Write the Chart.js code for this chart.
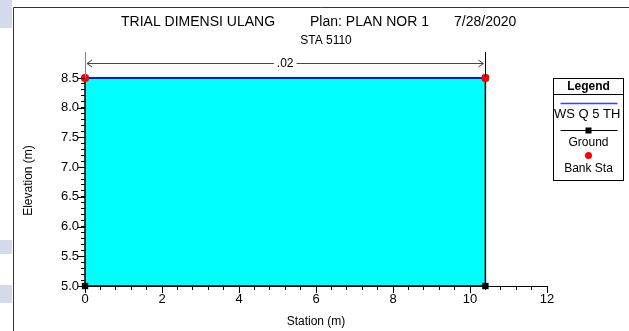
<!DOCTYPE html>
<html>
<head>
<meta charset="utf-8">
<script src="https://cdn.jsdelivr.net/npm/chart.js@4.4.0/dist/chart.umd.min.js"></script>
<style>
html, body { margin: 0; padding: 0; background: #fff; }
#wrap { position: relative; width: 629px; height: 331px; }
</style>
</head>
<body>
<div id="wrap"><canvas id="xs" width="629" height="331"></canvas></div>
<script>
// chart values
const titleParts = ['TRIAL DIMENSI ULANG', 'Plan: PLAN NOR 1', '7/28/2020'];
const subTitle = 'STA 5110';
const wsStation = [0, 10.4];
const wsElev = [8.5, 8.5];
const groundStation = [0, 0, 10.4, 10.4];
const groundElev = [8.5, 5.0, 5.0, 8.5];
const bankStation = [0, 10.4];
const bankElev = [8.5, 8.5];
const mannLabel = '.02';
const legendNames = ['WS Q 5 TH', 'Ground', 'Bank Sta'];
const xRange = [0, 12];
const yRange = [5.0, 8.55];
const xStep = 0.4, xLabelEvery = 2;
const yStep = 0.1, yLabelEvery = 0.5;

const FONT = 'Arial, "Liberation Sans", sans-serif';

function pts(xs, ys) {
    return xs.map((x, i) => ({ x: x, y: ys[i] }));
}
function isMultiple(v, m) {
    const r = v / m;
    return Math.abs(r - Math.round(r)) < 1e-6;
}

// frame, titles, dimension line, major ticks and legend box
const decorPlugin = {
    id: 'decor',
    beforeDraw(chart) {
        const ctx = chart.ctx;
        ctx.save();
        ctx.fillStyle = '#fff';
        ctx.fillRect(0, 0, chart.width, chart.height);
        // faint watermark bits in the margin
        ctx.fillStyle = '#d6d9eb';
        ctx.fillRect(0, 0, 12, 28);
        ctx.fillRect(0, 240, 12, 14);
        ctx.fillRect(0, 285, 12, 18);
        ctx.strokeStyle = '#333';
        ctx.lineWidth = 1;
        ctx.beginPath();
        ctx.moveTo(13.5, chart.height);
        ctx.lineTo(13.5, 7.5);
        ctx.lineTo(chart.width, 7.5);
        ctx.stroke();
        ctx.restore();
    },
    afterDraw(chart) {
        const ctx = chart.ctx;
        const area = chart.chartArea;
        const xs = chart.scales.x, ys = chart.scales.y;
        ctx.save();

        // titles
        ctx.fillStyle = '#000';
        ctx.textBaseline = 'middle';
        ctx.textAlign = 'left';
        ctx.font = '14px ' + FONT;
        const tx = [121, 310, 454];
        titleParts.forEach((t, i) => ctx.fillText(t, tx[i], 22));
        ctx.textAlign = 'center';
        ctx.font = '12px ' + FONT;
        ctx.fillText(subTitle, 326, 41);

        // major ticks
        ctx.strokeStyle = '#000';
        ctx.lineWidth = 1;
        ctx.beginPath();
        ys.ticks.forEach(t => {
            if (isMultiple(t.value, yLabelEvery)) {
                const py = Math.round(ys.getPixelForValue(t.value)) + 0.5;
                ctx.moveTo(area.left - 7, py);
                ctx.lineTo(area.left, py);
            }
        });
        xs.ticks.forEach(t => {
            if (isMultiple(t.value, xLabelEvery)) {
                const px = Math.round(xs.getPixelForValue(t.value)) + 0.5;
                ctx.moveTo(px, area.bottom);
                ctx.lineTo(px, area.bottom + 7);
            }
        });
        ctx.stroke();

        // dimension line for the n value between bank stations
        const xl = xs.getPixelForValue(bankStation[0]);
        const xr = xs.getPixelForValue(bankStation[1]);
        const yb = ys.getPixelForValue(bankElev[0]);
        const topExt = area.top - 23;
        const dimY = area.top - 11.5;
        ctx.lineWidth = 1;
        ctx.strokeStyle = '#808080';
        ctx.beginPath();
        ctx.moveTo(Math.round(xl) + 0.5, topExt);
        ctx.lineTo(Math.round(xl) + 0.5, yb);
        ctx.stroke();
        ctx.strokeStyle = '#000';
        ctx.beginPath();
        ctx.moveTo(Math.round(xr) + 0.5, topExt);
        ctx.lineTo(Math.round(xr) + 0.5, yb);
        ctx.stroke();

        ctx.strokeStyle = '#444';
        ctx.beginPath();
        ctx.moveTo(xl + 2, dimY);
        ctx.lineTo(xr - 2, dimY);
        ctx.moveTo(xl + 7, dimY - 3.5);
        ctx.lineTo(xl + 2, dimY);
        ctx.lineTo(xl + 7, dimY + 3.5);
        ctx.moveTo(xr - 7, dimY - 3.5);
        ctx.lineTo(xr - 2, dimY);
        ctx.lineTo(xr - 7, dimY + 3.5);
        ctx.stroke();
        ctx.font = '12px ' + FONT;
        const mid = (xl + xr) / 2;
        const lw = ctx.measureText(mannLabel).width;
        ctx.fillStyle = '#fff';
        ctx.fillRect(mid - lw / 2 - 3, dimY - 6, lw + 6, 12);
        ctx.fillStyle = '#000';
        ctx.textAlign = 'center';
        ctx.fillText(mannLabel, mid, dimY);

        // legend box
        const bx = area.right + 6.5, by = area.top + 3.5, bw = 70, bh = 102;
        ctx.fillStyle = '#fff';
        ctx.fillRect(bx, by, bw, bh);
        ctx.strokeStyle = '#000';
        ctx.strokeRect(bx, by, bw, bh);
        ctx.beginPath();
        ctx.moveTo(bx, by + 16);
        ctx.lineTo(bx + bw, by + 16);
        ctx.stroke();
        ctx.fillStyle = '#000';
        ctx.font = 'bold 12px ' + FONT;
        ctx.fillText('Legend', bx + bw / 2, by + 8.5);

        ctx.save();
        ctx.beginPath();
        ctx.rect(bx, by, bw, bh);
        ctx.clip();
        ctx.strokeStyle = '#3344ee';
        ctx.lineWidth = 1.5;
        ctx.beginPath();
        ctx.moveTo(bx + 7, by + 25);
        ctx.lineTo(bx + bw - 6, by + 25);
        ctx.stroke();
        ctx.font = '13px ' + FONT;
        ctx.textAlign = 'left';
        ctx.fillText(legendNames[0], bx + 0.5, by + 35.5);

        ctx.strokeStyle = '#000';
        ctx.lineWidth = 1.2;
        ctx.beginPath();
        ctx.moveTo(bx + 7, by + 52);
        ctx.lineTo(bx + bw - 6, by + 52);
        ctx.stroke();
        ctx.fillRect(bx + bw / 2 - 3, by + 49, 6, 6);
        ctx.font = '12px ' + FONT;
        ctx.textAlign = 'center';
        ctx.fillText(legendNames[1], bx + bw / 2, by + 64);

        ctx.fillStyle = '#ff0000';
        ctx.beginPath();
        ctx.arc(bx + bw / 2, by + 77, 3.5, 0, Math.PI * 2);
        ctx.fill();
        ctx.fillStyle = '#000';
        ctx.fillText(legendNames[2], bx + bw / 2, by + 90);
        ctx.restore();

        ctx.restore();
    }
};

const ctx = document.getElementById('xs').getContext('2d');
const chart = new Chart(ctx, {
    type: 'scatter',
    data: {
        datasets: [
            {
                label: legendNames[2],
                data: pts(bankStation, bankElev),
                showLine: false,
                clip: false,
                pointStyle: 'circle',
                pointRadius: 4,
                backgroundColor: '#ff0000',
                borderColor: '#ff0000',
                borderWidth: 0
            },
            {
                label: legendNames[1],
                data: pts(groundStation, groundElev),
                showLine: true,
                clip: false,
                borderColor: '#000',
                borderWidth: 1.5,
                pointStyle: 'rect',
                pointRadius: 4.5,
                pointBackgroundColor: '#000',
                pointBorderWidth: 0,
                fill: false
            },
            {
                label: legendNames[0],
                data: pts(wsStation, wsElev),
                showLine: true,
                clip: false,
                borderColor: '#1010dd',
                borderWidth: 2,
                backgroundColor: '#00ffff',
                pointRadius: 0,
                fill: { value: yRange[0] }
            }
        ]
    },
    options: {
        responsive: false,
        animation: false,
        devicePixelRatio: 1,
        layout: { padding: { left: 13, right: 82, top: 75, bottom: 0 } },
        plugins: {
            legend: { display: false },
            tooltip: { enabled: false },
            title: { display: false }
        },
        scales: {
            x: {
                type: 'linear',
                min: xRange[0],
                max: xRange[1],
                afterFit(scale) { scale.height = 45; },
                border: { display: true, color: '#000', width: 1 },
                grid: { drawOnChartArea: false, tickLength: 4, color: '#000' },
                ticks: {
                    stepSize: xStep,
                    autoSkip: false,
                    includeBounds: false,
                    maxRotation: 0,
                    padding: 2,
                    color: '#000',
                    font: { family: FONT, size: 13 },
                    callback: v => isMultiple(v, xLabelEvery) ? String(Math.round(v)) : ''
                },
                title: {
                    display: true,
                    text: 'Station (m)',
                    color: '#000',
                    font: { family: FONT, size: 12 },
                    padding: { top: 0, bottom: 2 }
                }
            },
            y: {
                type: 'linear',
                min: yRange[0],
                max: yRange[1],
                afterFit(scale) { scale.width = 72; },
                border: { display: true, color: '#000', width: 1 },
                grid: { drawOnChartArea: false, tickLength: 4, color: '#000' },
                ticks: {
                    stepSize: yStep,
                    autoSkip: false,
                    includeBounds: false,
                    padding: 2,
                    color: '#000',
                    font: { family: FONT, size: 13 },
                    callback: v => isMultiple(v, yLabelEvery) ? v.toFixed(1) : ''
                },
                title: {
                    display: true,
                    text: 'Elevation (m)',
                    color: '#000',
                    font: { family: FONT, size: 12 },
                    padding: { top: 8, bottom: 0 }
                }
            }
        }
    },
    plugins: [decorPlugin]
});
</script>
</body>
</html>
